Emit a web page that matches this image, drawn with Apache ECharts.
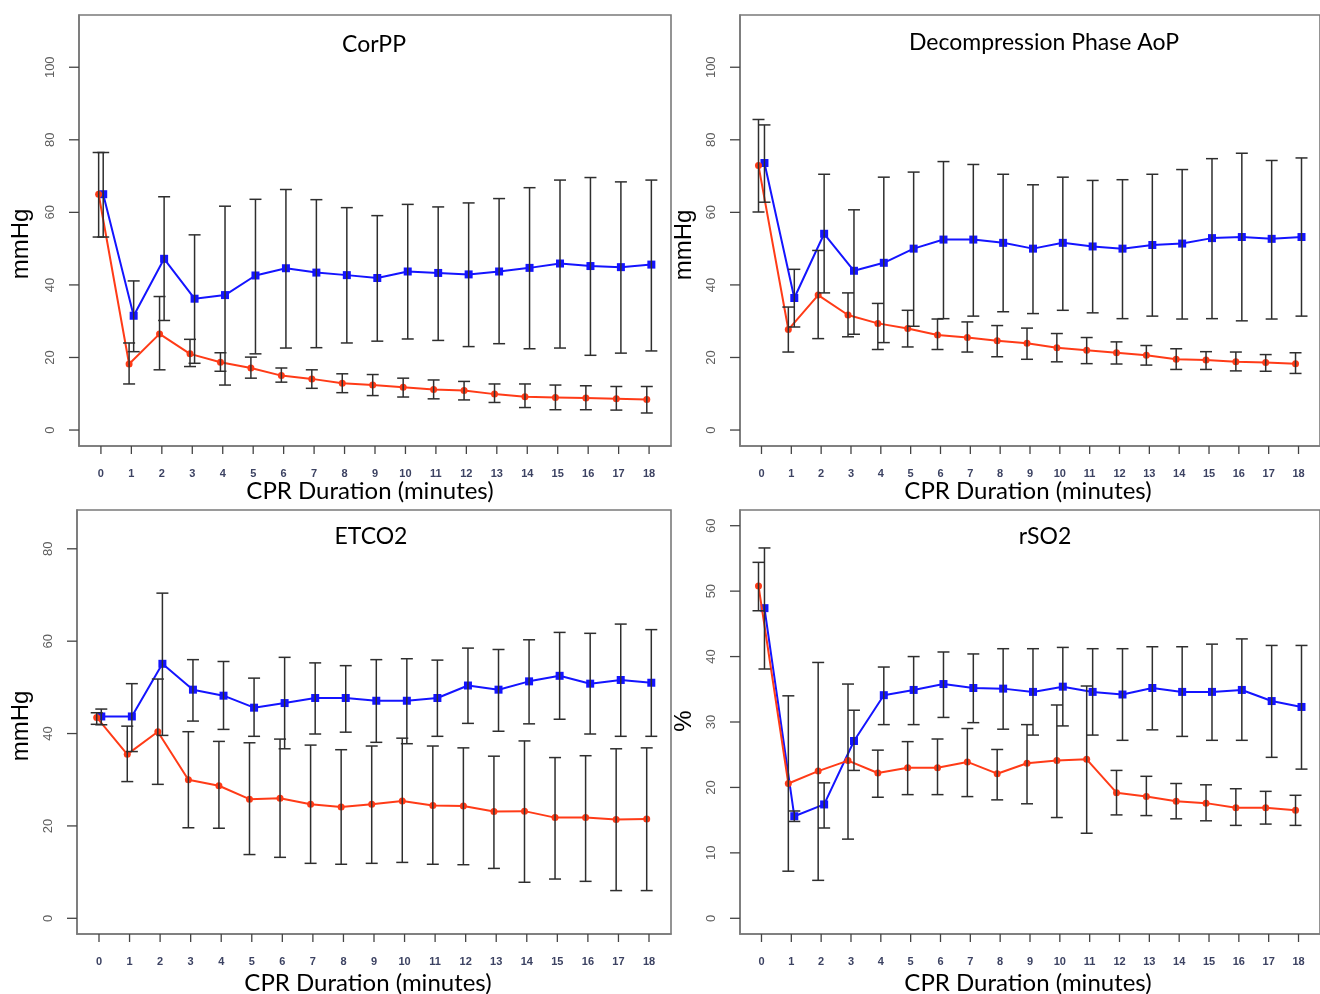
<!DOCTYPE html>
<html>
<head>
<meta charset="utf-8">
<script src="https://cdn.jsdelivr.net/npm/echarts@6/dist/echarts.min.js"></script>
<style>
html,body{margin:0;padding:0;background:#ffffff;}
#chart{width:1320px;height:994px;}
</style>
</head>
<body>
<div id="chart"></div>
<script>
// ---------- data ----------
const minutes = [0,1,2,3,4,5,6,7,8,9,10,11,12,13,14,15,16,17,18];

// CorPP (mmHg)
const corppBlue     = [65.0,31.5,47.2,36.2,37.2,42.6,44.6,43.4,42.7,41.9,43.7,43.3,42.9,43.7,44.7,45.9,45.2,44.9,45.6];
const corppBlueHigh = [76.5,41.1,64.3,53.8,61.7,63.6,66.3,63.5,61.3,59.1,62.2,61.5,62.6,63.8,66.8,68.9,69.6,68.4,68.9];
const corppBlueLow  = [53.2,21.6,30.2,18.4,12.4,21.0,22.6,22.7,24.0,24.5,25.1,24.7,23.0,23.8,22.4,22.6,20.6,21.2,21.8];
const corppRed      = [65.0,18.2,26.5,21.0,18.7,17.1,15.0,14.1,12.9,12.4,11.8,11.2,10.9,9.9,9.2,9.0,8.8,8.6,8.4];
const corppRedHigh  = [76.5,24.0,36.8,25.0,21.3,20.1,17.1,16.6,15.5,15.3,14.3,13.8,13.4,12.7,12.7,12.4,12.2,12.0,12.0];
const corppRedLow   = [53.2,12.7,16.6,17.5,16.2,14.3,13.2,11.5,10.3,9.5,9.1,8.6,8.3,7.6,6.2,5.6,5.6,5.5,4.7];

// Decompression Phase AoP (mmHg)
const aopBlue     = [73.6,36.4,54.1,43.9,46.1,50.0,52.5,52.5,51.6,50.0,51.6,50.6,50.0,51.0,51.4,52.9,53.2,52.7,53.2];
const aopBlueHigh = [84.1,44.3,70.5,60.7,69.7,71.1,74.0,73.2,70.5,67.6,69.7,68.8,69.0,70.5,71.8,74.8,76.3,74.3,75.0];
const aopBlueLow  = [62.8,28.4,37.8,26.4,24.1,28.6,30.7,31.4,32.6,32.1,33.0,32.3,30.7,31.4,30.6,30.7,30.1,30.6,31.4];
const aopRed      = [72.9,27.7,37.2,31.7,29.4,28.0,26.2,25.5,24.6,23.9,22.7,22.0,21.3,20.6,19.5,19.3,18.8,18.6,18.3];
const aopRedHigh  = [85.6,33.9,49.5,37.8,34.9,33.0,30.6,29.8,28.8,28.1,26.6,25.5,24.3,23.3,22.4,21.6,21.5,20.8,21.3];
const aopRedLow   = [60.1,21.5,25.2,25.7,22.2,22.9,22.2,21.5,20.2,19.5,18.8,18.3,18.2,17.9,16.7,16.7,16.3,16.2,15.6];

// ETCO2 (mmHg)
const etco2Blue     = [43.7,43.7,55.1,49.5,48.2,45.6,46.6,47.7,47.7,47.1,47.1,47.7,50.4,49.5,51.3,52.5,50.8,51.6,51.0];
const etco2BlueHigh = [45.3,50.8,70.4,56.0,55.6,52.0,56.5,55.3,54.7,56.0,56.2,55.9,58.5,58.2,60.3,61.9,61.7,63.7,62.5];
const etco2BlueLow  = [41.9,36.1,39.6,42.7,40.9,39.4,36.7,39.9,40.3,38.1,37.8,39.4,42.2,40.5,42.1,43.1,39.9,39.4,39.4];
const etco2Red      = [43.5,35.5,40.4,30.0,28.7,25.8,26.0,24.7,24.1,24.7,25.4,24.4,24.3,23.1,23.2,21.8,21.8,21.4,21.5];
const etco2RedHigh  = [44.5,41.6,51.8,40.4,38.3,38.0,38.8,37.5,36.5,37.3,39.0,37.3,36.9,35.1,38.4,34.8,35.2,36.7,36.9];
const etco2RedLow   = [42.0,29.6,29.0,19.6,19.5,13.8,13.2,11.9,11.7,11.9,12.1,11.7,11.6,10.8,7.8,8.5,8.0,6.0,6.0];

// rSO2 (%)
const rso2Blue     = [47.4,15.6,17.4,27.1,34.1,34.9,35.8,35.2,35.1,34.6,35.4,34.6,34.2,35.2,34.6,34.6,34.9,33.2,32.3];
const rso2BlueHigh = [56.6,16.4,20.7,31.8,38.4,40.0,40.7,40.4,41.2,41.2,41.4,41.2,41.2,41.5,41.5,41.9,42.7,41.7,41.7];
const rso2BlueLow  = [38.1,14.8,13.8,22.6,29.6,29.6,30.7,29.9,28.9,28.0,29.4,28.0,27.2,28.8,27.8,27.2,27.2,24.6,22.8];
const rso2Red      = [50.8,20.6,22.5,24.1,22.2,23.0,23.0,23.9,22.1,23.7,24.1,24.3,19.2,18.6,17.9,17.6,16.9,16.9,16.5];
const rso2RedHigh  = [54.4,34.0,39.1,35.8,25.7,27.0,27.4,29.0,25.8,29.6,32.6,35.5,22.6,21.7,20.6,20.4,19.8,19.4,18.8];
const rso2RedLow   = [47.0,7.2,5.8,12.1,18.5,18.9,18.9,18.6,18.1,17.5,15.4,13.0,15.8,15.7,15.2,14.9,14.2,14.4,14.2];

// tick labels
const xTicks = minutes;
const pressureTicks = [0,20,40,60,80,100];
const etco2Ticks = [0,20,40,60,80];
const rso2Ticks = [0,10,20,30,40,50,60];

const titles = ['CorPP','Decompression Phase AoP','ETCO2','rSO2'];
const yTitles = ['mmHg','mmHg','mmHg','%'];
const xTitle = 'CPR Duration (minutes)';

// ---------- layout / style ----------
const BLUE = '#1414ff';
const RED = '#ff3b17';
const BAR = '#2e2e2e';
const FRAME = '#7a7a7a';
const TICK = '#444444';
const X_MIN = -0.72, X_MAX = 18.72;
const X_TICK_LEN = 8, Y_TICK_LEN = 10;

const panels = [
  {grid:{left:79, top:15, width:592, height:431}, yMin:-4.4, yMax:114.4, ticks:pressureTicks, dodge:0.075,
   blue:corppBlue, blueLow:corppBlueLow, blueHigh:corppBlueHigh, red:corppRed, redLow:corppRedLow, redHigh:corppRedHigh,
   titlePos:[374,45], xTitlePos:[370,491], yTitlePos:[21,244]},
  {grid:{left:740, top:15, width:592, height:431}, yMin:-4.4, yMax:114.4, ticks:pressureTicks, dodge:0.1,
   blue:aopBlue, blueLow:aopBlueLow, blueHigh:aopBlueHigh, red:aopRed, redLow:aopRedLow, redHigh:aopRedHigh,
   titlePos:[1044,43], xTitlePos:[1028,491], yTitlePos:[684,245]},
  {grid:{left:77, top:510, width:594, height:424}, yMin:-3.4, yMax:88.4, ticks:etco2Ticks, dodge:0.075,
   blue:etco2Blue, blueLow:etco2BlueLow, blueHigh:etco2BlueHigh, red:etco2Red, redLow:etco2RedLow, redHigh:etco2RedHigh,
   titlePos:[371,537], xTitlePos:[368,983], yTitlePos:[21,726]},
  {grid:{left:740, top:510, width:592, height:424}, yMin:-2.4, yMax:62.4, ticks:rso2Ticks, dodge:0.1,
   blue:rso2Blue, blueLow:rso2BlueLow, blueHigh:rso2BlueHigh, red:rso2Red, redLow:rso2RedLow, redHigh:rso2RedHigh,
   titlePos:[1045,537], xTitlePos:[1028,983], yTitlePos:[684,721]}
];

function errorBars(idx, xs, lows, highs) {
  return {
    type:'custom', xAxisIndex:idx, yAxisIndex:idx, silent:true, z:5, clip:false,
    encode:{x:0, y:[1,2]},
    data: xs.map((x,i)=>[x, lows[i], highs[i]]),
    renderItem: function(params, api){
      const x = api.value(0);
      const lo = api.coord([x, api.value(1)]);
      const hi = api.coord([x, api.value(2)]);
      const w = 6;
      const st = {stroke:BAR, lineWidth:1.5, fill:null};
      return {type:'group', children:[
        {type:'line', shape:{x1:lo[0], y1:lo[1], x2:hi[0], y2:hi[1]}, style:st},
        {type:'line', shape:{x1:hi[0]-w, y1:hi[1], x2:hi[0]+w, y2:hi[1]}, style:st},
        {type:'line', shape:{x1:lo[0]-w, y1:lo[1], x2:lo[0]+w, y2:lo[1]}, style:st}
      ]};
    }
  };
}

// R-style outer tick marks, drawn in thin strip grids that share the panel's axis scale
function tickMarks(idx, values, onX) {
  return {
    type:'custom', xAxisIndex:idx, yAxisIndex:idx, silent:true, z:6, clip:false,
    encode: onX ? {x:0, y:1} : {x:1, y:0},
    data: values.map(v => [v, 0]),
    renderItem: function(params, api){
      const v = api.value(0);
      const a = onX ? api.coord([v, 0]) : api.coord([0, v]);
      const b = onX ? api.coord([v, 1]) : api.coord([1, v]);
      return {type:'line', shape:{x1:a[0], y1:a[1], x2:b[0], y2:b[1]}, style:{stroke:TICK, lineWidth:1.3}};
    }
  };
}

const grids = [], xAxes = [], yAxes = [], series = [], graphics = [];
const hiddenAxis = (gi, min, max) => ({type:'value', gridIndex:gi, min:min, max:max, show:false,
  axisLine:{show:false}, axisTick:{show:false}, axisLabel:{show:false}, splitLine:{show:false}});

panels.forEach((p, i) => {
  grids.push(Object.assign({show:true, borderColor:FRAME, borderWidth:1.6}, p.grid));
  xAxes.push({
    type:'value', gridIndex:i, min:X_MIN, max:X_MAX,
    axisLine:{show:true, onZero:false, lineStyle:{color:FRAME, width:1.6}}, splitLine:{show:false},
    axisTick:{show:false},
    axisLabel:{show:true, customValues:xTicks, margin:22, fontSize:11, fontWeight:'bold', color:'#3c4262', fontFamily:'Liberation Sans, Arial, sans-serif'}
  });
  yAxes.push({
    type:'value', gridIndex:i, min:p.yMin, max:p.yMax,
    axisLine:{show:true, onZero:false, lineStyle:{color:FRAME, width:1.6}}, splitLine:{show:false},
    axisTick:{show:false},
    axisLabel:{show:true, customValues:p.ticks, rotate:90, margin:22, fontSize:13, color:'#5e5e5e', fontFamily:'Liberation Sans, Arial, sans-serif'}
  });
  series.push({
    type:'line', xAxisIndex:i, yAxisIndex:i, z:3,
    data: minutes.map((m,k)=>[m + p.dodge, p.blue[k]]),
    symbol:'rect', symbolSize:8, showSymbol:true,
    lineStyle:{color:BLUE, width:2}, itemStyle:{color:BLUE}
  });
  series.push({
    type:'line', xAxisIndex:i, yAxisIndex:i, z:4,
    data: minutes.map((m,k)=>[m - p.dodge, p.red[k]]),
    symbol:'circle', symbolSize:7, showSymbol:true,
    lineStyle:{color:RED, width:2}, itemStyle:{color:RED}
  });
  series.push(errorBars(i, minutes.map(m=>m + p.dodge), p.blueLow, p.blueHigh));
  series.push(errorBars(i, minutes.map(m=>m - p.dodge), p.redLow, p.redHigh));

  graphics.push({type:'text', x:p.titlePos[0], y:p.titlePos[1], z:10,
    style:{text:titles[i], fill:'#000', font:'23px Lato, "Open Sans", sans-serif', textAlign:'center', textVerticalAlign:'middle'}});
  graphics.push({type:'text', x:p.xTitlePos[0], y:p.xTitlePos[1], z:10,
    style:{text:xTitle, fill:'#000', font:'24px Lato, "Open Sans", sans-serif', textAlign:'center', textVerticalAlign:'middle'}});
  graphics.push({type:'text', x:p.yTitlePos[0], y:p.yTitlePos[1], rotation:Math.PI/2, z:10,
    style:{text:yTitles[i], fill:'#000', font:'24px "Liberation Sans", Arial, sans-serif', textAlign:'center', textVerticalAlign:'middle'}});
});

// tick strips: one below each panel (x ticks) and one left of each panel (y ticks)
panels.forEach((p, i) => {
  const gx = grids.length;
  grids.push({show:false, left:p.grid.left, top:p.grid.top + p.grid.height, width:p.grid.width, height:X_TICK_LEN});
  xAxes.push(hiddenAxis(gx, X_MIN, X_MAX));
  yAxes.push(hiddenAxis(gx, 0, 1));
  series.push(tickMarks(gx, xTicks, true));

  const gy = grids.length;
  grids.push({show:false, left:p.grid.left - Y_TICK_LEN, top:p.grid.top, width:Y_TICK_LEN, height:p.grid.height});
  xAxes.push(hiddenAxis(gy, 0, 1));
  yAxes.push(hiddenAxis(gy, p.yMin, p.yMax));
  series.push(tickMarks(gy, p.ticks, false));
});

const chart = echarts.init(document.getElementById('chart'), null, {renderer:'canvas'});
chart.setOption({
  animation:false,
  grid: grids,
  xAxis: xAxes,
  yAxis: yAxes,
  series: series,
  graphic: graphics
});
</script>
</body>
</html>
